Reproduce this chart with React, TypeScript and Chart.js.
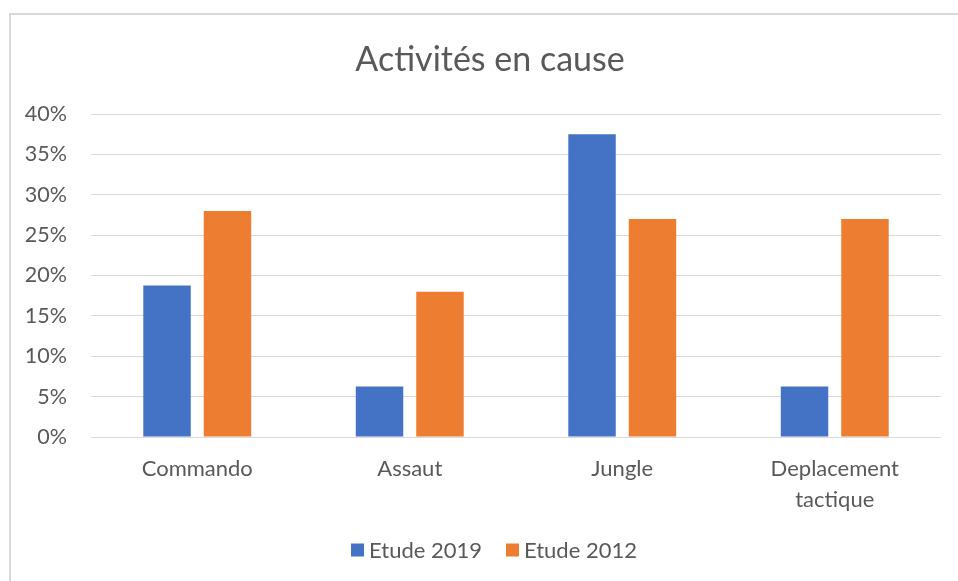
import React, { useEffect, useRef } from "react";
import { Chart, registerables } from "chart.js";

Chart.register(...registerables);

const TITLE = "Activités en cause";
const CATEGORIES: (string | string[])[] = ["Commando", "Assaut", "Jungle", ["Deplacement", "tactique"]];
const SERIES_2019 = [18.75, 6.25, 37.5, 6.25];
const SERIES_2012 = [28, 18, 27, 27];
const SERIES_LABELS = ["Etude 2019", "Etude 2012"];
const Y_TICKS = [0, 5, 10, 15, 20, 25, 30, 35, 40];

const FONT = "Lato, 'Open Sans', sans-serif";
const TEXT = "#595959";
const BLUE = "#4472C4";
const ORANGE = "#ED7D31";

const overlayPlugin = {
  id: "excelOverlay",
  afterDraw(chart: any) {
    const ctx = chart.ctx;
    ctx.save();
    ctx.fillStyle = TEXT;
    ctx.textBaseline = "middle";
    ctx.textAlign = "center";
    ctx.font = `34px ${FONT}`;
    ctx.fillText(TITLE, 490, 60);

    // legend
    ctx.font = `22px ${FONT}`;
    const box = 13;
    const gapBoxText = 5;
    const gapItems = 24;
    const items = chart.data.datasets.map((d: any) => ({
      label: d.label,
      color: d.backgroundColor,
      w: box + gapBoxText + ctx.measureText(d.label).width,
    }));
    const total = items.reduce((s: number, it: any) => s + it.w, 0) + gapItems * (items.length - 1);
    let x = 494 - total / 2;
    const cy = 550;
    ctx.textAlign = "left";
    for (const it of items) {
      ctx.fillStyle = it.color;
      ctx.fillRect(x, cy - box / 2, box, box);
      ctx.fillStyle = TEXT;
      ctx.fillText(it.label, x + box + gapBoxText, cy + 1);
      x += it.w + gapItems;
    }
    ctx.restore();
  },
};

export default function App() {
  const ref = useRef<HTMLCanvasElement>(null);
  useEffect(() => {
    if (!ref.current) return;
    const chart = new Chart(ref.current, {
      type: "bar",
      data: {
        labels: CATEGORIES,
        datasets: [
          {
            label: SERIES_LABELS[0],
            data: SERIES_2019,
            backgroundColor: BLUE,
            categoryPercentage: 0.569,
            barPercentage: 0.785,
          },
          {
            label: SERIES_LABELS[1],
            data: SERIES_2012,
            backgroundColor: ORANGE,
            categoryPercentage: 0.569,
            barPercentage: 0.785,
          },
        ],
      },
      options: {
        animation: false,
        responsive: false,
        maintainAspectRatio: false,
        layout: { padding: { left: 0, top: 114, right: 17, bottom: 64 } },
        plugins: {
          legend: { display: false },
          title: { display: false },
          tooltip: { enabled: false },
        },
        scales: {
          x: {
            grid: { display: false, drawTicks: false },
            border: { display: false },
            ticks: {
              color: TEXT,
              font: { family: FONT, size: 22, lineHeight: 1.4 },
              padding: 17,
              maxRotation: 0,
              autoSkip: false,
            },
            afterFit: (s: any) => {
              s.height = 80;
            },
          },
          y: {
            min: 0,
            max: 40,
            afterBuildTicks: (s: any) => {
              s.ticks = Y_TICKS.map((v) => ({ value: v }));
            },
            grid: { color: "#D9D9D9", lineWidth: 1, drawTicks: false },
            border: { display: false },
            ticks: {
              color: TEXT,
              font: { family: FONT, size: 21.5 },
              padding: 24,
              callback: (v: any) => `${v}%`,
            },
            afterFit: (s: any) => {
              s.width = 91;
            },
          },
        },
      },
      plugins: [overlayPlugin],
    });
    return () => chart.destroy();
  }, []);

  return (
    <div style={{ position: "fixed", left: 0, top: 0, width: 958, height: 581, overflow: "hidden", background: "#fff" }}>
      <div
        style={{
          position: "absolute",
          left: 9,
          top: 13,
          width: 1000,
          height: 1000,
          borderLeft: "2px solid #D9D9D9",
          borderTop: "2px solid #D9D9D9",
        }}
      />
      <canvas ref={ref} width={958} height={581} style={{ position: "absolute", left: 0, top: 0, width: 958, height: 581 }} />
    </div>
  );
}
